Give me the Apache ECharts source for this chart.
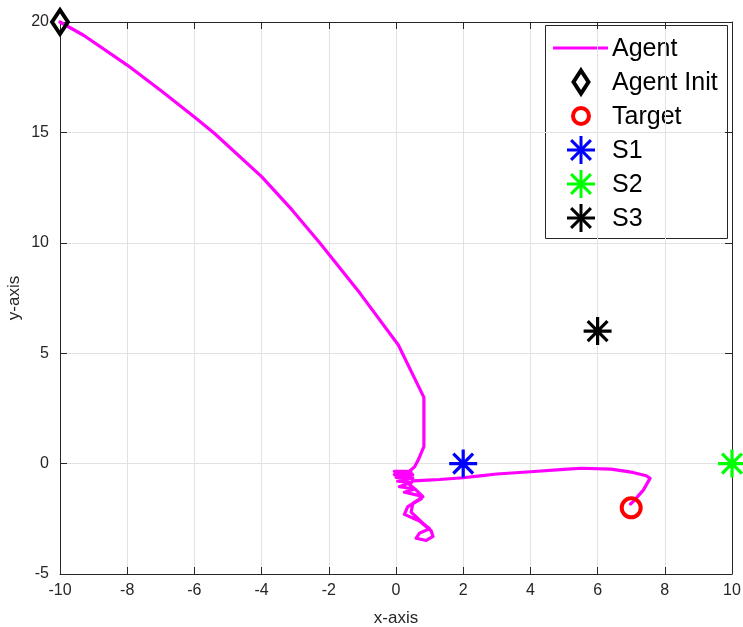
<!DOCTYPE html>
<html>
<head>
<meta charset="utf-8">
<script src="https://cdn.jsdelivr.net/npm/echarts@6/dist/echarts.min.js"></script>
<style>
  html, body { margin: 0; padding: 0; background: #ffffff; }
  #chart { width: 743px; height: 627px; }
</style>
</head>
<body>
<div id="chart"></div>
<script>
// Agent trajectory (x, y)
const agentX = [-10, -9.3, -8.0, -7.0, -6.0, -5.4, -4.0, -3.1, -2.26, -1.07, 0.07, 0.83, 0.83, 0.66, 0.55, 0.4,
  -0.05, 0.45, -0.05, 0.5, 0.0, 0.5, 0.05, 0.45,
  0.1, 0.55, 0.25, 0.7, 0.75, 0.35, 0.25, 0.7, 1.05, 1.1, 0.9, 0.6, 0.7, 1.0,
  0.8, 0.45, 0.5, 0.8, 0.6, 0.4, 0.5,
  0.8, 1.3, 2.0, 2.5, 3.0, 4.0, 5.0, 5.5, 6.4, 7.05, 7.45, 7.56, 7.36, 7.06, 6.98];
const agentY = [20, 19.4, 18.05, 16.9, 15.7, 14.95, 13.0, 11.5, 9.98, 7.71, 5.37, 3.0, 0.77, 0.16, -0.15, -0.35,
  -0.35, -0.4, -0.5, -0.5, -0.62, -0.65, -0.8, -0.85,
  -1.05, -1.15, -1.3, -1.45, -1.6, -1.95, -2.3, -2.6, -3.05, -3.3, -3.48, -3.38, -3.15, -2.95,
  -2.7, -2.2, -1.8, -1.5, -1.2, -0.95, -0.78,
  -0.76, -0.72, -0.64, -0.56, -0.47, -0.37, -0.26, -0.21, -0.25, -0.4, -0.55, -0.67, -1.2, -1.72, -1.83];

// Markers
const agentInit = [-10, 20];
const target = [7, -2];
const s1 = [2, 0];
const s2 = [10, 0];
const s3 = [6, 6];

// Axes
const xRange = [-10, 10, 2];
const yRange = [-5, 20, 5];
const legendNames = ['Agent', 'Agent Init', 'Target', 'S1', 'S2', 'S3'];

const AXIS_COLOR = '#262626';
const GRID_COLOR = '#e2e2e2';
const FONT = '"Liberation Sans", Arial, Helvetica, sans-serif';
const ASTERISK = 'path://M0,-10L0,10M-10,0L10,0M-7.07,-7.07L7.07,7.07M-7.07,7.07L7.07,-7.07';

const agentData = agentX.map((x, i) => [x, agentY[i]]);

function baseAxis(extra) {
  return Object.assign({
    type: 'value',
    axisLine: { show: true, onZero: false, lineStyle: { color: AXIS_COLOR, width: 1 } },
    axisTick: { show: true, inside: true, length: 7, lineStyle: { color: AXIS_COLOR, width: 1 } },
    axisLabel: { color: AXIS_COLOR, fontSize: 16, fontFamily: FONT },
    splitLine: { show: false }
  }, extra);
}

function starSeries(name, point, color) {
  return {
    name: name, type: 'scatter', data: [point], clip: false,
    symbol: ASTERISK, symbolSize: 28,
    itemStyle: { color: color, borderColor: color, borderWidth: 3.2, opacity: 1 },
    emphasis: { disabled: true }, z: 4
  };
}

// Legend drawn as graphic elements
const LG = { x: 545, y: 25, w: 182, h: 213, first: 48, step: 34, iconX: 581, textX: 612 };
function legendIcon(i) {
  const cy = LG.first + i * LG.step;
  const cx = LG.iconX;
  const els = [];
  if (i === 0) {
    els.push({ type: 'line', shape: { x1: 553, y1: cy, x2: 608, y2: cy },
      style: { stroke: '#ff00ff', lineWidth: 3 } });
  } else if (i === 1) {
    els.push({ type: 'polygon', shape: { points: [[cx, cy - 11.5], [cx + 7.5, cy], [cx, cy + 11.5], [cx - 7.5, cy]] },
      style: { fill: 'none', stroke: '#000000', lineWidth: 4 } });
  } else if (i === 2) {
    els.push({ type: 'circle', shape: { cx: cx, cy: cy, r: 8 },
      style: { fill: 'none', stroke: '#ff0000', lineWidth: 4 } });
  } else {
    const col = ['#0000ff', '#00ff00', '#000000'][i - 3];
    const r = 14, d = r * 0.707;
    [[0, -r, 0, r], [-r, 0, r, 0], [-d, -d, d, d], [-d, d, d, -d]].forEach(s => {
      els.push({ type: 'line', shape: { x1: cx + s[0], y1: cy + s[1], x2: cx + s[2], y2: cy + s[3] },
        style: { stroke: col, lineWidth: 3 } });
    });
  }
  els.push({ type: 'text', x: LG.textX, y: cy + 1,
    style: { text: legendNames[i], fill: '#000000', font: '25px ' + FONT, verticalAlign: 'middle', align: 'left' } });
  return els;
}
let legendEls = [{ type: 'rect', shape: { x: LG.x + 0.5, y: LG.y + 0.5, width: LG.w, height: LG.h },
  style: { fill: '#ffffff', stroke: AXIS_COLOR, lineWidth: 1 } }];
legendNames.forEach((n, i) => { legendEls = legendEls.concat(legendIcon(i)); });

const chart = echarts.init(document.getElementById('chart'), null, { renderer: 'canvas' });
chart.setOption({
  animation: false,
  backgroundColor: '#ffffff',
  grid: { left: 60, right: 11, top: 22, bottom: 53, containLabel: false, outerBoundsMode: 'none' },
  xAxis: [
    baseAxis({
      position: 'bottom', min: xRange[0], max: xRange[1], interval: xRange[2],
      name: 'x-axis', nameLocation: 'middle', nameGap: 36,
      nameTextStyle: { color: AXIS_COLOR, fontSize: 17, fontFamily: FONT },
      axisLabel: { color: AXIS_COLOR, fontSize: 16, fontFamily: FONT, margin: 9 },
      splitLine: { show: true, lineStyle: { color: GRID_COLOR, width: 1 } }
    }),
    baseAxis({ position: 'top', min: xRange[0], max: xRange[1], interval: xRange[2],
      axisLabel: { show: false } })
  ],
  yAxis: [
    baseAxis({
      position: 'left', min: yRange[0], max: yRange[1], interval: yRange[2],
      name: 'y-axis', nameLocation: 'middle', nameGap: 37, nameMoveOverlap: false,
      nameTextStyle: { color: AXIS_COLOR, fontSize: 17, fontFamily: FONT },
      axisLabel: { color: AXIS_COLOR, fontSize: 16, fontFamily: FONT, margin: 11 },
      splitLine: { show: true, lineStyle: { color: GRID_COLOR, width: 1 } }
    }),
    baseAxis({ position: 'right', min: yRange[0], max: yRange[1], interval: yRange[2],
      axisLabel: { show: false } })
  ],
  series: [
    {
      name: 'Agent', type: 'line', data: agentData, showSymbol: false, symbol: 'none',
      smooth: false, clip: false,
      lineStyle: { color: '#ff00ff', width: 3.2, join: 'round', cap: 'round' },
      emphasis: { disabled: true }, z: 2
    },
    {
      name: 'Agent Init', type: 'scatter', data: [agentInit], clip: false,
      symbol: 'diamond', symbolSize: [16, 24],
      itemStyle: { color: 'rgba(0,0,0,0)', borderColor: '#000000', borderWidth: 4, opacity: 1 },
      emphasis: { disabled: true }, z: 3
    },
    {
      name: 'Target', type: 'scatter', data: [target], clip: false,
      symbol: 'circle', symbolSize: 19,
      itemStyle: { color: 'rgba(0,0,0,0)', borderColor: '#ff0000', borderWidth: 4, opacity: 1 },
      emphasis: { disabled: true }, z: 3
    },
    starSeries('S1', s1, '#0000ff'),
    starSeries('S2', s2, '#00ff00'),
    starSeries('S3', s3, '#000000')
  ],
  graphic: { elements: legendEls }
});
</script>
</body>
</html>
